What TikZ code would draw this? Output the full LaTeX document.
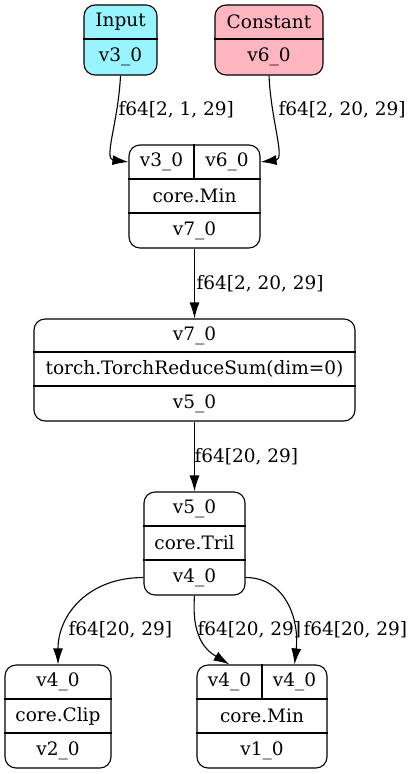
\documentclass[tikz,border=0pt]{standalone}
\usepackage{fontspec}
\setmainfont{DejaVu Serif}
\usetikzlibrary{arrows.meta}
\definecolor{inpcol}{HTML}{98F5FF}
\definecolor{concol}{HTML}{FFB6C1}

\begin{document}
\begin{tikzpicture}[x=1pt,y=-1pt,line width=1.1pt,
    rec/.style={draw, rounded corners=11pt, inner sep=0pt},
    fld/.style={font=\fontsize{18.5}{20}\selectfont, inner sep=1pt},
    lbl/.style={font=\fontsize{18.5}{20}\selectfont, anchor=west, inner sep=0pt},
    edge/.style={-{Latex[length=16pt,width=10pt]}}]
  \useasboundingbox (0,0) rectangle (414,774);
  % Boxes of the records
  \foreach \n/\cx/\cy/\w/\h/\c in {inp/120.5/40/73/70/inpcol, con/269/40/108/70/concol,
      min1/194.5/196.5/131/103/white, sum/194.5/370/321/102/white,
      tril/194.5/543.5/101/103/white, clip/58/716.5/106/103/white,
      min2/262/716.5/130/103/white} {
    \node[rec, fill=\c, minimum width=\w, minimum height=\h] (\n) at (\cx,\cy) {};
  }
  % Dividers between the fields
  \foreach \n/\y in {inp/39, con/39, min1/179, min1/213, sum/352, sum/386,
      tril/526, tril/560, clip/699, clip/733, min2/699, min2/733} {
    \draw (\n.west |- 0,\y) -- (\n.east |- 0,\y);
  }
  \draw (min1.north -| 194,0) -- (194,179);
  \draw (min2.north) -- (min2.north |- 0,699);
  % Texts of the fields
  \foreach \n/\x/\y/\t in {inp1/120.5/22/Input, inp2/120.5/57/v3\_0,
      con1/269/22/Constant, con2/269/57/v6\_0,
      m1a/161.5/162/v3\_0, m1b/227/162/v6\_0, m1c/194.5/196/core.Min, m1d/194.5/230.5/v7\_0,
      s1/194.5/335.5/v7\_0, s2/194.5/369/{torch.TorchReduceSum(dim=0)}, s3/194.5/403.5/v5\_0,
      t1/194.5/509/v5\_0, t2/194.5/543/core.Tril, t3/194.5/577.5/v4\_0,
      c1/58/682/v4\_0, c2/58/716/core.Clip, c3/58/750.5/v2\_0,
      m2a/229.5/682/v4\_0, m2b/294.5/682/v4\_0, m2c/262/716/core.Min, m2d/262/750.5/v1\_0} {
    \node[fld] (\n) at (\x,\y) {\t};
  }
  % Edges
  \draw[edge] (inp.south) .. controls +(-2,45) and +(-25,-3) .. (min1.west |- m1a);
  \draw[edge] (con.south) .. controls +(2,45) and +(25,-3) .. (min1.east |- m1b);
  \draw[edge] (min1.south) -- (sum.north);
  \draw[edge] (sum.south) -- (tril.north);
  \draw[edge] (tril.west |- t3) .. controls +(-55,0) and +(0,-50) .. (clip.north);
  \draw[edge] (tril.south) .. controls +(-3,40) and +(-25,-15) .. (m2a |- min2.north);
  \draw[edge] (tril.east |- t3) .. controls +(40,0) and +(5,-45) .. (m2b |- min2.north);
  % Edge labels
  \node[lbl] (e1) at (118,110) {f64[2, 1, 29]};
  \node[lbl] (e2) at (278,110) {f64[2, 20, 29]};
  \node[lbl] (e3) at (196,284) {f64[2, 20, 29]};
  \node[lbl] (e4) at (194,457) {f64[20, 29]};
  \node[lbl] (e5) at (68,630) {f64[20, 29]};
  \node[lbl] (e6) at (197,630) {f64[20, 29]};
  \node[lbl] (e7) at (303,630) {f64[20, 29]};
\end{tikzpicture}
\end{document}
